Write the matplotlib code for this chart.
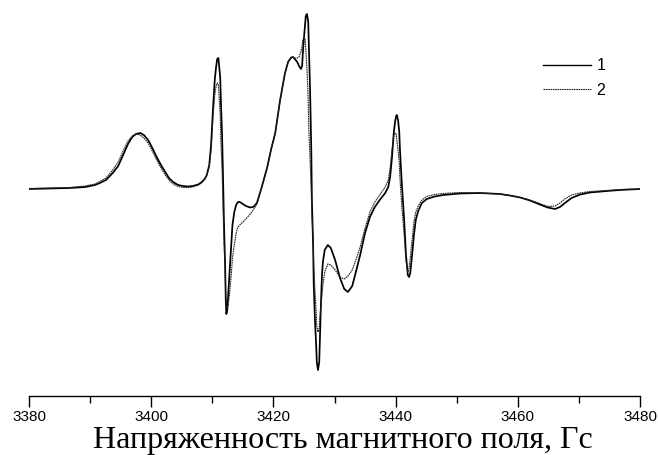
import matplotlib
matplotlib.use("Agg")
import matplotlib.pyplot as plt
from matplotlib.ticker import MultipleLocator

# Magnetic field, G
field = [
    3380.0, 3383.4, 3386.7, 3389.2, 3390.8, 3391.6, 3392.6, 3393.7, 3394.6, 3395.4,
    3396.2, 3396.9, 3397.5, 3398.2, 3398.8, 3399.5, 3400.1, 3400.9, 3401.6, 3402.3,
    3402.9, 3403.6, 3404.4, 3405.2, 3406.0, 3406.8, 3407.7, 3408.3, 3408.8, 3409.1,
    3409.5, 3409.8, 3410.1, 3410.4, 3410.6, 3410.8, 3411.0, 3411.1, 3411.3, 3411.4,
    3411.6, 3411.75, 3411.9, 3412.1, 3412.2, 3412.3, 3412.45, 3412.6, 3412.8, 3413.1,
    3413.3, 3413.6, 3413.9, 3414.2, 3414.5, 3415.0, 3415.5, 3416.2, 3416.7, 3417.3,
    3418.1, 3419.0, 3419.6, 3420.3, 3421.1, 3421.9, 3422.4, 3422.9, 3423.2, 3423.5,
    3423.9, 3424.2, 3424.5, 3424.7, 3424.8, 3425.0, 3425.2, 3425.3, 3425.5, 3425.7,
    3425.8, 3426.0, 3426.2, 3426.3, 3426.5, 3426.6, 3426.8, 3427.0, 3427.1, 3427.3,
    3427.5, 3427.6, 3427.8, 3427.95, 3428.1, 3428.4, 3428.9, 3429.4, 3430.1, 3430.9,
    3431.6, 3432.2, 3432.9, 3433.5, 3434.2, 3435.0, 3435.8, 3436.6, 3437.4, 3438.3,
    3438.8, 3439.1, 3439.4, 3439.7, 3439.9, 3440.1, 3440.2, 3440.4, 3440.6, 3440.7,
    3441.0, 3441.4, 3441.7, 3441.9, 3442.0, 3442.2, 3442.4, 3442.7, 3443.0, 3443.3,
    3443.7, 3444.3, 3445.1, 3446.4, 3447.8, 3450.5, 3453.8, 3457.1, 3458.7, 3460.4,
    3462.0, 3463.6, 3464.9, 3466.1, 3466.9, 3467.7, 3468.8, 3470.2, 3471.8, 3474.6,
    3476.7, 3480.0,
]

# First-derivative EPR signal, arbitrary units (spectrum 1)
spectrum_1 = [
    -1, -0.5, 0, 1, 3, 5, 8, 15, 22, 33,
    44, 51, 54, 55, 53, 48, 41, 31, 23, 16,
    10, 6, 3, 2, 1.5, 2, 3.5, 6, 9.5, 13,
    23, 43, 78, 108, 120, 129, 130, 123, 110, 88,
    53, 13, -32, -77, -112, -126, -122, -107, -87, -57,
    -37, -24, -17, -14, -14, -16, -18, -19.5, -19, -15,
    1, 21, 38, 55, 88, 115, 126, 130.5, 131, 129,
    126, 122, 119, 122, 133, 150, 164, 172, 174, 166,
    143, 98, 38, -12, -57, -97, -132, -157, -174, -182,
    -174, -152, -112, -87, -74, -62, -57, -60, -72, -90,
    -101, -104, -98, -84, -67, -45, -29, -19, -12, -5,
    1, 11, 30, 55, 66, 72, 73, 68, 56, 40,
    6, -32, -67, -80, -87, -89, -85, -67, -47, -32,
    -23, -15, -11, -8.5, -7, -5.5, -5, -6, -7.5, -9.5,
    -12.5, -16.5, -19.5, -21, -19, -15, -10, -6.5, -4.5, -3,
    -2, -1,
]

# First-derivative EPR signal, arbitrary units (spectrum 2)
spectrum_2 = [
    -0.5, 0, 0.5, 2, 4, 6.5, 10, 18, 26, 37,
    47, 52, 54, 53, 50, 45, 38, 28, 20, 13,
    8, 4, 1.5, 0.5, 0.5, 1, 3, 5.5, 9, 13,
    21, 38, 70, 93, 101, 105, 103, 93, 73, 48,
    18, -17, -52, -82, -107, -117, -120, -117, -107, -87,
    -70, -57, -45, -39, -37, -34, -31, -26, -22, -16,
    1, 21, 38, 55, 88, 115, 126, 130.5, 131, 130,
    130, 131, 136, 142, 148, 151, 149, 138, 118, 88,
    58, 28, -2, -27, -52, -77, -102, -124, -138, -144,
    -140, -130, -117, -107, -97, -84, -76, -77, -82, -89,
    -91, -88, -82, -72, -59, -40, -24, -14, -7, 1,
    8, 20, 38, 52, 55, 54, 48, 38, 25, 11,
    -17, -47, -72, -81, -84, -80, -70, -52, -34, -24,
    -18, -12, -8.5, -6.5, -5.5, -4.5, -5, -6, -7.5, -9.5,
    -12, -15.5, -18.5, -18, -15, -11, -7, -5, -3.5, -2.5,
    -1.5, -1,
]

labels = ["1", "2"]
xlabel = "Напряженность магнитного поля, Гс"

W, H = 658, 455
fig = plt.figure(figsize=(W / 100, H / 100), dpi=100)
ax = fig.add_axes([29 / W, (H - 396) / H, (640 - 29) / W, 396 / H])

l1, = ax.plot(field, spectrum_1, color="black", lw=1.25, label=labels[0])
l2, = ax.plot(field, spectrum_2, color="#222222", lw=0.8,
              linestyle=(0, (1.5, 0.6)), label=labels[1])

ax.set_xlim(3380, 3480)
ax.set_ylim(-208, 188)
ax.set_yticks([])
for side in ("left", "right", "top"):
    ax.spines[side].set_visible(False)
ax.spines["bottom"].set_linewidth(1.0)
ax.xaxis.set_major_locator(MultipleLocator(20))
ax.xaxis.set_minor_locator(MultipleLocator(10))
ax.tick_params(axis="x", which="major", direction="out", length=8, width=1.0,
               labelsize=11, pad=2)
ax.tick_params(axis="x", which="minor", direction="out", length=5, width=1.0)
for t in ax.get_xticklabels():
    t.set_fontfamily("Liberation Sans")

ax.set_xlabel(xlabel, fontfamily="Liberation Serif", fontsize=23)
ax.xaxis.set_label_coords((343 - 29) / 611, -(426 - 396) / 396)

leg = fig.legend(handles=[l1, l2], loc="center left",
                 bbox_to_anchor=(543 / W, 1 - 78 / H), frameon=False,
                 borderpad=0, borderaxespad=0, handlelength=3.0,
                 handletextpad=0.35, labelspacing=0.6,
                 prop={"family": "Liberation Sans", "size": 11.5})
leg.get_lines()[0].set_linewidth(1.0)

fig.savefig("out.png", dpi=100)
